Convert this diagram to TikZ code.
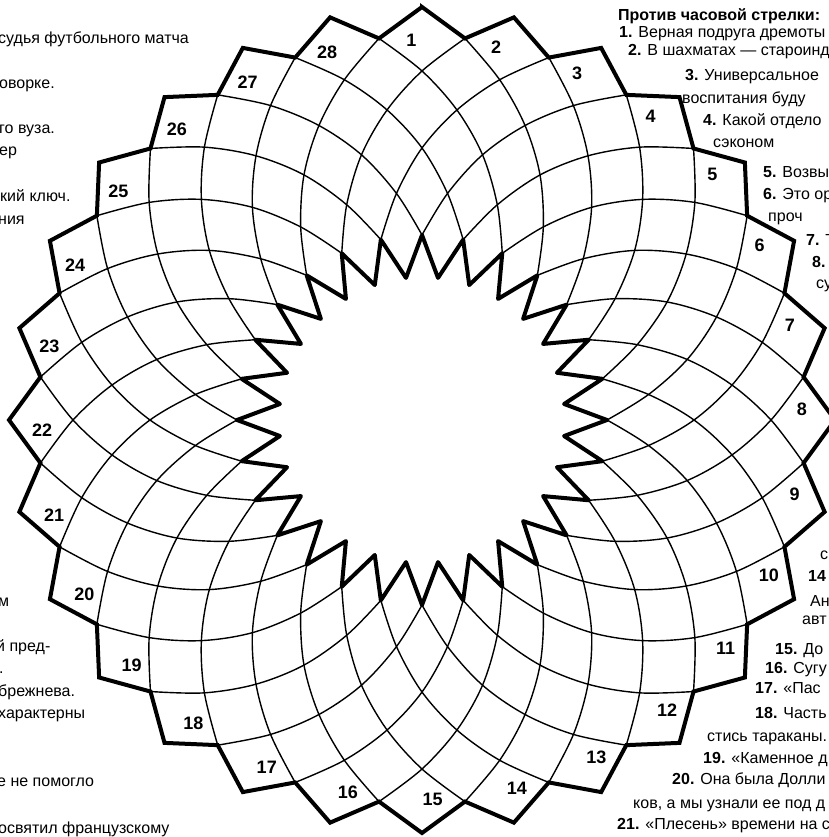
\documentclass[tikz,border=0pt]{standalone}
\usepackage{fontspec}
\setmainfont{Liberation Sans}
\newlength{\du}
\setlength{\du}{1pt}
\tikzset{
  spiral/.style={line width=1.4\du, smooth, tension=0.55},
  rim/.style={line width=4\du, line join=miter},
  num/.style={inner sep=0pt, font=\fontsize{18}{18}\selectfont\bfseries},
  clueleft/.style={anchor=base west, inner sep=0pt, font=\fontsize{16}{19}\selectfont},
  clueright/.style={anchor=base west, inner sep=0pt, font=\fontsize{16}{19}\selectfont},
}
\begin{document}
\begin{tikzpicture}[x=\du,y=\du]
\pgftransformxscale{1.000000}
\pgftransformyscale{-1.000000}
\definecolor{dialinecolor}{rgb}{0.000000, 0.000000, 0.000000}
\pgfsetstrokecolor{dialinecolor}
\useasboundingbox (0,0) rectangle (828,837);
\fill[white] (0,0) rectangle (828,837);
\begin{scope}
\pgftransformshift{\pgfpoint{422\du}{420\du}}
\def\hstep{6.428571}
% spiral grid
\foreach \m in {0,2,...,54}{
  \draw[spiral] plot coordinates {({-90+(\m+1)*\hstep}:384) ({-90+(\m+2)*\hstep}:349)
    ({-90+(\m+3)*\hstep}:312) ({-90+(\m+4)*\hstep}:272) ({-90+(\m+5)*\hstep}:228) ({-90+(\m+6)*\hstep}:185)};
  \draw[spiral] plot coordinates {({-90+(\m-1)*\hstep}:384) ({-90+(\m-2)*\hstep}:349)
    ({-90+(\m-3)*\hstep}:312) ({-90+(\m-4)*\hstep}:272) ({-90+(\m-5)*\hstep}:228) ({-90+(\m-6)*\hstep}:185)};
}
% outer and inner border
\draw[rim] (-90:413) \foreach \m in {0,2,...,54}{ -- ({-90+(\m+1)*\hstep}:384) -- ({-90+(\m+2)*\hstep}:413)} -- cycle;
\draw[rim, line join=round] (-90:185) \foreach \m in {0,2,...,54}{ -- ({-90+(\m+1)*\hstep}:143) -- ({-90+(\m+2)*\hstep}:185)} -- cycle;
% setfont left to latex
\foreach \n in {1,...,28}
  \node[num] (num\n) at ({-90+2*(\n-1)*\hstep-1.6}:380) {\n};
\end{scope}
% setfont left to latex
\node[clueleft] (left1) at (-2,44) {судья футбольного матча};
\node[clueleft] (left2) at (-1,89) {оворке.};
\node[clueleft] (left3) at (-1,134) {го вуза.};
\node[clueleft] (left4) at (-1,156) {ер};
\node[clueleft] (left5) at (0,201) {кий ключ.};
\node[clueleft] (left6) at (-2,224) {ния};
\node[clueleft] (left7) at (-2,606) {м};
\node[clueleft] (left8) at (-4,651) {й пред-};
\node[clueleft] (left9) at (-1,673) {.};
\node[clueleft] (left10) at (-2,696) {брежнева.};
\node[clueleft] (left11) at (-2,718) {характерны};
\node[clueleft] (left12) at (-3,786) {е не помогло};
\node[clueleft] (left13) at (-2,833) {освятил французскому};
\node[clueright, font=\fontsize{16}{19}\selectfont\bfseries] (right0) at (618,21) {Против часовой стрелки:};
\node[clueright] (right1) at (619,38) {\textbf{1.} Верная подруга дремоты};
\node[clueright] (right2) at (628,56) {\textbf{2.} В шахматах — староинд};
\node[clueright] (right3) at (685,81) {\textbf{3.} Универсальное};
\node[clueright] (right4) at (682,104) {воспитания буду};
\node[clueright] (right5) at (703,126) {\textbf{4.} Какой отдело};
\node[clueright] (right6) at (713,148) {сэконом};
\node[clueright] (right7) at (763,178) {\textbf{5.} Возвы};
\node[clueright] (right8) at (763,199) {\textbf{6.} Это ор};
\node[clueright] (right9) at (768,221) {проч};
\node[clueright] (right10) at (806,245) {\textbf{7.} Т};
\node[clueright] (right11) at (812,267) {\textbf{8.}};
\node[clueright] (right12) at (816,288) {су};
\node[clueright] (right13) at (820,559) {с};
\node[clueright] (right14) at (808,581) {\textbf{14}};
\node[clueright] (right15) at (810,606) {Ан};
\node[clueright] (right16) at (802,624) {авт};
\node[clueright] (right17) at (775,654) {\textbf{15.} До};
\node[clueright] (right18) at (765,673) {\textbf{16.} Сугу};
\node[clueright] (right19) at (755,693) {\textbf{17.} «Пас};
\node[clueright] (right20) at (755,718) {\textbf{18.} Часть};
\node[clueright] (right21) at (707,741) {стись тараканы.};
\node[clueright] (right22) at (703,763) {\textbf{19.} «Каменное д};
\node[clueright] (right23) at (672,784) {\textbf{20.} Она была Долли};
\node[clueright] (right24) at (633,808) {ков, а мы узнали ее под д};
\node[clueright] (right25) at (617,829) {\textbf{21.} «Плесень» времени на с};
\end{tikzpicture}
\end{document}
